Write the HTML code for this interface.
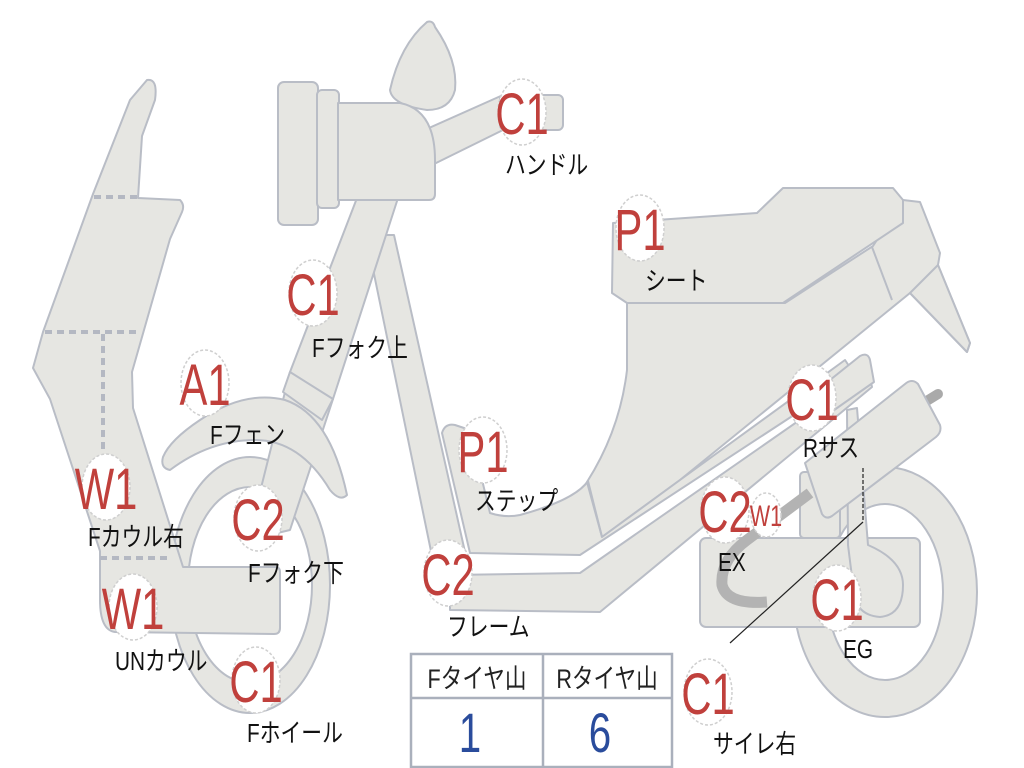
<!DOCTYPE html>
<html><head><meta charset="utf-8"><style>
html,body{margin:0;padding:0;background:#fff;}
svg{display:block;}
.s{fill:#e6e6e2;stroke:#b9bdc6;stroke-width:2;stroke-linejoin:round;}
.b{fill:#fff;stroke:#cfcfcf;stroke-width:1.5;stroke-dasharray:3 2;}
.bt{font-family:"Liberation Sans",sans-serif;font-size:58px;fill:#c0403c;text-anchor:middle;}
.lt{font-family:"Liberation Sans","Noto Sans CJK JP",sans-serif;font-size:26px;fill:#111;}
.tt{font-family:"Liberation Sans","Noto Sans CJK JP",sans-serif;font-size:27px;fill:#222;text-anchor:middle;}
.nt{font-family:"Liberation Sans",sans-serif;font-size:56px;fill:#2a4c9c;text-anchor:middle;}
</style></head><body>
<svg width="1024" height="768" viewBox="0 0 1024 768" xmlns="http://www.w3.org/2000/svg">
<!-- rear wheel -->
<path class="s" fill-rule="evenodd" d="M793,592 a92,125 0 1,0 184,0 a92,125 0 1,0 -184,0 Z M827,592 a58,88 0 1,0 116,0 a58,88 0 1,0 -116,0 Z"/>
<!-- rear body -->
<path class="s" d="M627,303 L785,303 L873,246 L903,200 L920,202 L940,253 L938,265 L970,343 L967,352 L910,293 L680,480 L602,537 L587,482 Q620,430 627,370 Z"/>
<path class="s" d="M938,265 L970,343 L967,352 L910,293 Z"/>
<line x1="872" y1="247" x2="892" y2="300" stroke="#b9bdc6" stroke-width="2"/>
<!-- seat -->
<path class="s" d="M613,223 L757,213 L783,188 L893,188 L903,200 L903,223 L783,303 L627,303 L612,293 Z"/>
<!-- steering tube -->
<path class="s" d="M366,235 L394,235 L465,552 L432,556 Z"/>
<!-- step/floor -->
<path class="s" d="M442,433 Q445,423 455,425 L470,430 L490,513 Q505,518 520,515 Q575,500 588,481 L602,537 L680,480 L845,360 L855,375 L580,555 L470,553 Z"/>
<line x1="587" y1="482" x2="602" y2="537" stroke="#b9bdc6" stroke-width="2"/>
<!-- frame tube -->
<path class="s" d="M450,575 L580,573 L860,378 L866,360 L872,387 L600,612 L450,610 Z"/>
<!-- rear rail bar -->
<path class="s" d="M805,400 L860,356 Q868,352 870,360 L874,382 L820,420 Z"/>
<!-- engine -->
<rect class="s" x="700" y="538" width="220" height="89" rx="6"/>
<rect class="s" x="800" y="472" width="40" height="66" rx="4"/>
<path class="s" d="M847,410 L857,408 L868,545 Q903,560 903,585 Q903,615 880,617 Q853,615 853,585 L848,545 Z"/>
<path d="M810,493 L747,540 Q720,560 722,585 Q727,605 767,602" fill="none" stroke="#b3b3b3" stroke-width="11" stroke-linecap="butt"/>
<!-- muffler -->
<line x1="925" y1="402" x2="938" y2="394" stroke="#aaa" stroke-width="10" stroke-linecap="round"/>
<path class="s" d="M805,463 L905,384 Q912,378 918,384 L940,425 Q942,432 936,437 L832,516 Q826,520 822,514 Z"/>
<!-- leader -->
<line x1="863" y1="468" x2="863" y2="522" stroke="#222" stroke-width="1.2" stroke-dasharray="4 2"/>
<line x1="863" y1="522" x2="730" y2="643" stroke="#222" stroke-width="1.2"/>
<!-- front wheel -->
<path class="s" fill-rule="evenodd" d="M170,585 a80,128 0 1,0 160,0 a80,128 0 1,0 -160,0 Z M188,585 a62,98 0 1,0 124,0 a62,98 0 1,0 -124,0 Z"/>
<!-- fork -->
<path class="s" d="M357,198 L398,198 L333,399 L290,530 L248,540 L290,372 Z"/>
<path class="s" d="M290,372 L333,399 L322,420 L283,392 Z" fill="none"/>
<!-- fender -->
<path class="s" d="M163,457 Q170,440 200,420 Q245,390 285,400 Q330,415 347,495 Q340,502 330,490 Q300,440 255,440 Q210,440 170,470 Q160,468 163,457 Z"/>
<!-- cowl -->
<path class="s" d="M147,80 Q158,78 155,100 L142,136 L138,198 L180,200 Q185,205 182,212 L170,239 L132,372 L133,408 L183,567 L275,567 Q280,567 280,572 L280,628 Q280,634 274,634 L115,632 Q100,630 100,600 L100,551 L50,399 L33,368 L43,332 L93,194 L130,100 Z"/>
<g stroke="#b4b8c2" stroke-width="4" stroke-dasharray="7 5" fill="none">
<line x1="94" y1="197" x2="138" y2="197"/>
<line x1="45" y1="332" x2="137" y2="332"/>
<line x1="103" y1="334" x2="103" y2="450"/>
<line x1="100" y1="558" x2="170" y2="558"/>
</g>
<!-- headlight / handle -->
<path class="s" d="M390,90 Q400,45 427,22 Q433,20 435,27 Q458,60 455,90 Q450,110 427,110 Q392,105 390,90 Z"/>
<path class="s" d="M420,132 L503,95 L503,130 L432,165 Z"/>
<rect class="s" x="500" y="95" width="63" height="35" rx="5"/>
<rect class="s" x="278" y="82" width="40" height="143" rx="6"/>
<rect class="s" x="317" y="90" width="22" height="118" rx="5"/>
<path class="s" d="M338,103 L400,103 Q435,110 435,160 L435,194 Q435,200 429,200 L338,200 Z"/>
<!-- table -->
<g fill="#fff" stroke="#aab0bc" stroke-width="2.5">
<rect x="411" y="654" width="261" height="113"/>
<line x1="411" y1="698" x2="672" y2="698"/>
<line x1="543" y1="654" x2="543" y2="767"/>
</g>
<text class="tt" transform="translate(477,688) scale(0.8,1)">Fタイヤ山</text>
<text class="tt" transform="translate(607,688) scale(0.8,1)">Rタイヤ山</text>
<text class="nt" transform="translate(470,752) scale(0.72,1)">1</text>
<text class="nt" transform="translate(600,752) scale(0.72,1)">6</text>
<!-- badges -->
<g>
<ellipse class="b" cx="522" cy="112" rx="24" ry="33"/><text class="bt" transform="translate(522,134) scale(0.72,1)">C1</text>
<ellipse class="b" cx="640" cy="228" rx="24" ry="33"/><text class="bt" transform="translate(640,250) scale(0.72,1)">P1</text>
<ellipse class="b" cx="313" cy="293" rx="24" ry="33"/><text class="bt" transform="translate(313,315) scale(0.72,1)">C1</text>
<ellipse class="b" cx="205" cy="383" rx="24" ry="33"/><text class="bt" transform="translate(205,405) scale(0.72,1)">A1</text>
<ellipse class="b" cx="483" cy="450" rx="24" ry="33"/><text class="bt" transform="translate(483,472) scale(0.72,1)">P1</text>
<ellipse class="b" cx="812" cy="398" rx="24" ry="33"/><text class="bt" transform="translate(812,420) scale(0.72,1)">C1</text>
<ellipse class="b" cx="106" cy="487" rx="24" ry="33"/><text class="bt" transform="translate(106,509) scale(0.72,1)">W1</text>
<ellipse class="b" cx="258" cy="518" rx="24" ry="33"/><text class="bt" transform="translate(258,540) scale(0.72,1)">C2</text>
<ellipse class="b" cx="725" cy="510" rx="24" ry="33"/><text class="bt" transform="translate(725,532) scale(0.72,1)">C2</text>
<ellipse class="b" cx="766" cy="515" rx="15" ry="22"/><text class="bt" style="font-size:30px" transform="translate(766,526) scale(0.72,1)">W1</text>
<ellipse class="b" cx="448" cy="573" rx="24" ry="33"/><text class="bt" transform="translate(448,595) scale(0.72,1)">C2</text>
<ellipse class="b" cx="133" cy="607" rx="24" ry="33"/><text class="bt" transform="translate(133,629) scale(0.72,1)">W1</text>
<ellipse class="b" cx="837" cy="598" rx="24" ry="33"/><text class="bt" transform="translate(837,620) scale(0.72,1)">C1</text>
<ellipse class="b" cx="256" cy="680" rx="24" ry="33"/><text class="bt" transform="translate(256,702) scale(0.72,1)">C1</text>
<ellipse class="b" cx="708" cy="692" rx="24" ry="33"/><text class="bt" transform="translate(708,714) scale(0.72,1)">C1</text>
</g>
<!-- labels -->
<g>
<text class="lt" transform="translate(505,174) scale(0.8,1)">ハンドル</text>
<text class="lt" transform="translate(645,290) scale(0.8,1)">シート</text>
<text class="lt" transform="translate(312,357) scale(0.8,1)">Fフォク上</text>
<text class="lt" transform="translate(210,444) scale(0.8,1)">Fフェン</text>
<text class="lt" transform="translate(475,510) scale(0.8,1)">ステップ</text>
<text class="lt" transform="translate(803,457) scale(0.8,1)">Rサス</text>
<text class="lt" transform="translate(88,546) scale(0.8,1)">Fカウル右</text>
<text class="lt" transform="translate(248,582) scale(0.8,1)">Fフォク下</text>
<text class="lt" transform="translate(718,571) scale(0.8,1)">EX</text>
<text class="lt" transform="translate(447,636) scale(0.8,1)">フレーム</text>
<text class="lt" transform="translate(115,670) scale(0.8,1)">UNカウル</text>
<text class="lt" transform="translate(843,658) scale(0.8,1)">EG</text>
<text class="lt" transform="translate(247,742) scale(0.8,1)">Fホイール</text>
<text class="lt" transform="translate(713,753) scale(0.8,1)">サイレ右</text>
</g>
</svg>
</body></html>
